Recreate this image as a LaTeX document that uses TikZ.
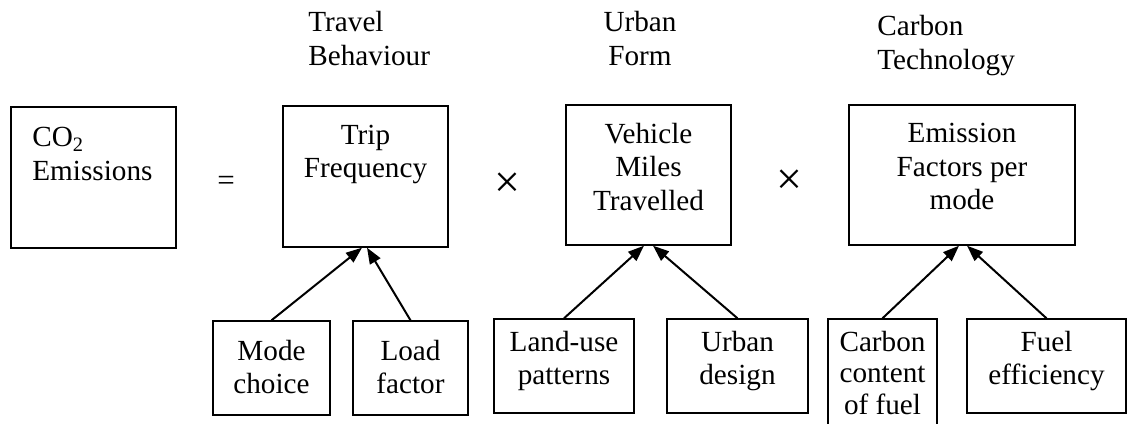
\documentclass[tikz,border=0pt]{standalone}
\usepackage{fontspec}
\setmainfont{Liberation Serif}
\usetikzlibrary{arrows.meta}

\tikzset{
    box/.style={draw, line width=0.7pt, inner sep=0pt},
    txt/.style={inner sep=0pt, align=center, font=\fontsize{14.6}{16.75}\selectfont},
    sign/.style={inner sep=0pt, font=\fontsize{15.5}{18}\selectfont},
    feed/.style={-{Triangle[length=8pt, width=6pt]}, line width=1pt},
}

\begin{document}
\begin{tikzpicture}[x=0.5pt, y=-0.5pt]
    \clip (0, 0) rectangle (1128, 423);

    \node[txt, align=left, anchor=north west] (travel) at (308, 11) {Travel\\Behaviour};
    \node[txt, anchor=north] (urban) at (640, 11) {Urban\\Form};
    \node[txt, align=left, anchor=north west] (techno) at (877, 15) {Carbon\\Technology};

    \node[box, minimum width=82.5pt, minimum height=70.5pt] (co2) at (93.5, 177.5) {};
    \node[txt, align=left, anchor=north west] (co2t) at (32, 127) {CO\textsubscript{2}\\Emissions};
    \node[sign] (eq) at (226, 183) {=};

    \node[box, minimum width=82.5pt, minimum height=70.5pt] (trip) at (365.5, 176.5) {};
    \node[txt, anchor=north] (tript) at (365.5, 124.5) {Trip\\Frequency};
    \node[sign, font=\fontsize{23}{26}\selectfont] (times1) at (507, 185) {×};

    \node[box, minimum width=82.5pt, minimum height=70pt] (vmt) at (648.5, 175) {};
    \node[txt, anchor=north] (vmtt) at (648.5, 122.5) {Vehicle\\Miles\\Travelled};
    \node[sign, font=\fontsize{23}{26}\selectfont] (times2) at (789, 182) {×};

    \node[box, minimum width=113pt, minimum height=70pt] (emf) at (962, 175) {};
    \node[txt, anchor=north] (emft) at (962, 123) {Emission\\Factors per\\mode};

    \node[box, minimum width=58.5pt, minimum height=47pt] (mode) at (271.5, 368) {};
    \node[txt, anchor=north] (modet) at (271.5, 339.5) {Mode\\choice};
    \node[box, minimum width=57.5pt, minimum height=47pt] (load) at (410.5, 368) {};
    \node[txt, anchor=north] (loadt) at (410.5, 339.5) {Load\\factor};

    \node[box, minimum width=70pt, minimum height=47pt] (landuse) at (564, 366) {};
    \node[txt, anchor=north] (landuset) at (564, 330.5) {Land-use\\patterns};
    \node[box, minimum width=70.5pt, minimum height=47pt] (design) at (737.5, 366) {};
    \node[txt, anchor=north] (designt) at (737.5, 330.5) {Urban\\design};

    \node[box, minimum width=54.5pt, minimum height=60.5pt] (content) at (882.5, 379.5) {};
    \node[txt, anchor=north, font=\fontsize{14.6}{15.75}\selectfont] (contentt) at (882.5, 330.5) {Carbon\\content\\of fuel};
    \node[box, minimum width=79.5pt, minimum height=47pt] (fuel) at (1046.5, 366) {};
    \node[txt, anchor=north] (fuelt) at (1046.5, 330.5) {Fuel\\efficiency};

    \draw[feed] (mode.north) -- ([xshift=-1.75pt]trip.south);
    \draw[feed] (load.north) -- ([xshift=0.75pt]trip.south);
    \draw[feed] (landuse.north) -- ([xshift=-2.25pt]vmt.south);
    \draw[feed] (design.north) -- ([xshift=2.25pt]vmt.south);
    \draw[feed] (content.north) -- ([xshift=-1.5pt]emf.south);
    \draw[feed] (fuel.north) -- ([xshift=2.5pt]emf.south);
\end{tikzpicture}
\end{document}
